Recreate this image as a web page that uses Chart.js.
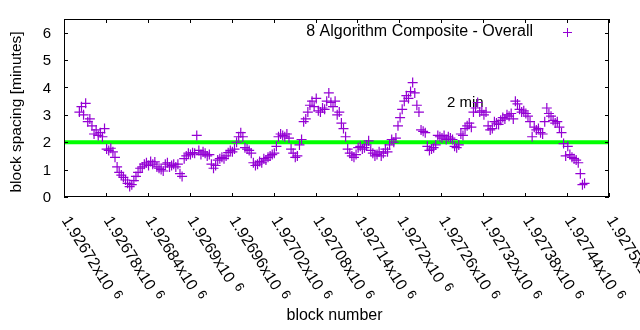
<!DOCTYPE html>
<html>
<head>
<meta charset="utf-8">
<script src="https://cdn.jsdelivr.net/npm/chart.js@4/dist/chart.umd.min.js"></script>
<style>
  html, body { margin: 0; padding: 0; background: #fff; }
  #wrap { width: 640px; height: 330px; position: relative; }
</style>
</head>
<body>
<div id="wrap"><canvas id="c" width="640" height="330"></canvas></div>
<script>
// ---- data ----
const blocks = [
  1926742,1926745,1926748,1926751,1926754,1926757,1926760,1926763,1926766,1926769,
  1926772,1926775,1926778,1926781,1926784,1926787,1926790,1926793,1926796,1926799,
  1926802,1926805,1926808,1926811,1926814,1926817,1926820,1926823,1926826,1926829,
  1926832,1926835,1926838,1926841,1926844,1926847,1926850,1926853,1926856,1926859,
  1926862,1926865,1926868,1926871,1926874,1926877,1926880,1926883,1926886,1926889,
  1926892,1926895,1926898,1926901,1926904,1926907,1926910,1926913,1926916,1926919,
  1926922,1926925,1926928,1926931,1926934,1926937,1926940,1926943,1926946,1926949,
  1926952,1926955,1926958,1926961,1926964,1926967,1926970,1926973,1926976,1926979,
  1926982,1926985,1926988,1926991,1926994,1926997,1927000,1927003,1927006,1927009,
  1927012,1927015,1927018,1927021,1927024,1927027,1927030,1927033,1927036,1927039,
  1927042,1927045,1927048,1927051,1927054,1927057,1927060,1927063,1927066,1927069,
  1927072,1927075,1927078,1927081,1927084,1927087,1927090,1927093,1927096,1927099,
  1927102,1927105,1927108,1927111,1927114,1927117,1927120,1927123,1927126,1927129,
  1927132,1927135,1927138,1927141,1927144,1927147,1927150,1927153,1927156,1927159,
  1927162,1927165,1927168,1927171,1927174,1927177,1927180,1927183,1927186,1927189,
  1927192,1927195,1927198,1927201,1927204,1927207,1927210,1927213,1927216,1927219,
  1927222,1927225,1927228,1927231,1927234,1927237,1927240,1927243,1927246,1927249,
  1927252,1927255,1927258,1927261,1927264,1927267,1927270,1927273,1927276,1927279,
  1927282,1927285,1927288,1927291,1927294,1927297,1927300,1927303,1927306,1927309,
  1927312,1927315,1927318,1927321,1927324,1927327,1927330,1927333,1927336,1927339,
  1927342,1927345,1927348,1927351,1927354,1927357,1927360,1927363,1927366,1927369,
  1927372,1927375,1927378,1927381,1927384,1927387,1927390,1927393,1927396,1927399,
  1927402,1927405,1927408,1927411,1927414,1927417,1927420,1927423,1927426,1927429,
  1927432,1927435,1927438,1927441,1927444,1927447,1927450,1927453,1927456,1927459,
  1927462,1927465
];
const spacingMinutes = [
  3.1,3.3,3.0,3.42,2.75,2.85,2.6,2.3,2.45,2.25,
  2.35,2.2,2.5,1.75,1.7,1.78,1.65,1.45,1.1,0.9,
  0.8,0.72,0.62,0.5,0.38,0.45,0.6,0.75,0.9,1.05,
  1.1,1.2,1.25,1.15,1.3,1.2,1.28,1.1,1.05,1.0,
  0.95,1.2,1.25,1.1,1.15,1.2,1.1,1.2,0.85,0.75,
  1.4,1.5,1.6,1.55,1.62,1.6,2.25,1.7,1.55,1.65,
  1.6,1.5,1.55,1.2,1.05,1.15,1.35,1.4,1.45,1.4,
  1.5,1.62,1.7,1.65,1.75,2.0,2.2,2.35,2.2,1.8,
  1.75,1.7,1.6,1.25,1.15,1.2,1.3,1.25,1.4,1.35,
  1.45,1.5,1.55,1.6,1.85,2.2,2.3,2.25,2.2,2.3,
  2.15,1.75,1.6,1.45,1.5,1.9,2.1,2.75,2.85,3.1,
  3.35,3.5,3.3,3.6,3.15,3.1,3.25,3.2,3.5,3.8,
  3.45,3.3,3.5,3.0,3.1,2.7,2.5,2.2,1.75,1.6,
  1.5,1.45,1.55,1.8,1.85,1.75,1.8,1.9,2.05,1.7,
  1.6,1.5,1.55,1.65,1.5,1.6,1.75,1.65,1.9,2.1,
  2.0,2.15,2.6,2.9,3.2,3.5,3.7,3.6,3.85,4.18,
  3.8,3.35,3.1,2.45,2.4,2.35,1.85,1.7,1.75,1.8,
  1.9,2.25,2.2,2.15,2.25,2.1,2.2,2.15,2.1,1.85,
  1.8,1.9,2.3,2.25,2.5,2.6,2.7,2.55,3.1,3.25,
  3.45,3.1,3.15,3.0,3.1,2.6,2.45,2.5,2.75,2.7,
  2.65,2.8,2.9,2.85,3.0,2.95,3.05,2.85,3.5,3.4,
  3.2,3.1,3.15,3.05,2.95,2.75,2.2,2.55,2.45,2.5,
  2.35,2.3,2.75,3.25,3.05,2.95,2.8,2.7,2.75,2.55,
  2.35,1.95,1.5,1.85,1.55,1.45,1.4,1.35,1.25,0.85,
  0.45,0.5
];
const referenceLevel = 2;            // the "2 min" line
const referenceLabel = '2 min';
const referenceLabelAt = [1927268, 3.45];
const seriesName = '8 Algorithm Composite - Overall';
const xTickValues = [1926720,1926780,1926840,1926900,1926960,1927020,1927080,1927140,1927200,1927260,1927320,1927380,1927440,1927500];
const xTickLabels = ['1.92672','1.92678','1.92684','1.9269','1.92696','1.92702','1.92708','1.92714','1.9272','1.92726','1.92732','1.92738','1.92744','1.9275'];
const yTickValues = [0,1,2,3,4,5,6];
const xTitle = 'block number';
const yTitle = 'block spacing [minutes]';

// ---- chart ----
const FONT = '"Liberation Sans", Arial, sans-serif';
const PURPLE = '#9400d3';
const GREEN = '#00ff00';

const points = blocks.map((b, i) => ({ x: b, y: spacingMinutes[i] }));
const xMin = xTickValues[0], xMax = xTickValues[xTickValues.length - 1];

const deco = {
  id: 'deco',
  beforeDatasetsDraw(chart) {
    const { ctx, scales: { x, y } } = chart;
    ctx.save();
    ctx.fillStyle = '#000';
    ctx.font = '15px ' + FONT;
    ctx.textAlign = 'left';
    ctx.textBaseline = 'middle';
    ctx.fillText(referenceLabel, x.getPixelForValue(referenceLabelAt[0]), y.getPixelForValue(referenceLabelAt[1]));
    ctx.restore();
  },
  afterDraw(chart) {
    const { ctx, chartArea: a, scales: { x, y } } = chart;
    ctx.save();
    ctx.strokeStyle = '#000';
    ctx.lineWidth = 1;
    // border
    ctx.strokeRect(a.left + 0.5, a.top + 0.5, a.right - a.left - 1, a.bottom - a.top - 1);
    const T = 4;
    ctx.beginPath();
    yTickValues.forEach(v => {
      const py = Math.round(y.getPixelForValue(v)) + 0.5;
      ctx.moveTo(a.left, py); ctx.lineTo(a.left + T, py);
      ctx.moveTo(a.right, py); ctx.lineTo(a.right - T, py);
    });
    xTickValues.forEach(v => {
      const px = Math.round(x.getPixelForValue(v)) + 0.5;
      ctx.moveTo(px, a.bottom); ctx.lineTo(px, a.bottom - T);
      ctx.moveTo(px, a.top); ctx.lineTo(px, a.top + T);
    });
    ctx.stroke();

    ctx.fillStyle = '#000';
    ctx.font = '15px ' + FONT;
    // y tick labels
    ctx.textAlign = 'right';
    ctx.textBaseline = 'middle';
    yTickValues.forEach(v => {
      ctx.fillText(String(v), a.left - 13, y.getPixelForValue(v) + 1);
    });
    // x tick labels, rotated
    xTickValues.forEach((v, i) => {
      const px = x.getPixelForValue(v);
      ctx.save();
      ctx.translate(px + 1, a.bottom + 21);
      ctx.rotate(58 * Math.PI / 180);
      ctx.textAlign = 'left';
      ctx.textBaseline = 'middle';
      ctx.font = '16px ' + FONT;
      const main = xTickLabels[i] + 'x10';
      ctx.fillText(main, 0, 0);
      const w = ctx.measureText(main).width;
      ctx.font = '13px ' + FONT;
      ctx.fillText('6', w + 6, -4);
      ctx.restore();
    });
    // axis titles
    ctx.font = '16px ' + FONT;
    ctx.textAlign = 'center';
    ctx.textBaseline = 'middle';
    ctx.fillText(xTitle, (a.left + a.right) / 2 - 2, 316);
    ctx.save();
    ctx.translate(17, (a.top + a.bottom) / 2 + 4);
    ctx.rotate(-Math.PI / 2);
    ctx.font = '15.5px ' + FONT;
    ctx.fillText(yTitle, 0, 0);
    ctx.restore();
    // legend
    ctx.font = '16px ' + FONT;
    ctx.textAlign = 'right';
    ctx.fillText(seriesName, 533, 32);
    ctx.strokeStyle = PURPLE;
    ctx.beginPath();
    ctx.moveTo(563, 32.5); ctx.lineTo(572, 32.5);
    ctx.moveTo(567.5, 28); ctx.lineTo(567.5, 37);
    ctx.stroke();
    ctx.restore();
  }
};

new Chart(document.getElementById('c'), {
  type: 'scatter',
  data: {
    datasets: [
      {
        label: seriesName,
        data: points,
        pointStyle: 'cross',
        pointRadius: 5,
        pointBorderWidth: 1.2,
        borderColor: PURPLE,
        backgroundColor: PURPLE,
        order: 1
      },
      {
        label: referenceLabel,
        type: 'line',
        data: [{ x: xMin, y: referenceLevel }, { x: xMax, y: referenceLevel }],
        borderColor: GREEN,
        borderWidth: 4,
        pointRadius: 0,
        order: 2
      }
    ]
  },
  options: {
    responsive: false,
    animation: false,
    devicePixelRatio: 1,
    layout: { padding: { left: 0, right: 31, top: 19, bottom: 0 } },
    plugins: { legend: { display: false }, tooltip: { enabled: false } },
    scales: {
      x: {
        type: 'linear', min: xMin, max: xMax,
        grid: { display: false }, border: { display: false },
        ticks: { display: false },
        afterFit(s) { s.height = 133; }
      },
      y: {
        type: 'linear', min: 0, max: 6.5,
        grid: { display: false }, border: { display: false },
        ticks: { display: false },
        afterFit(s) { s.width = 64; }
      }
    }
  },
  plugins: [deco]
});
</script>
</body>
</html>
